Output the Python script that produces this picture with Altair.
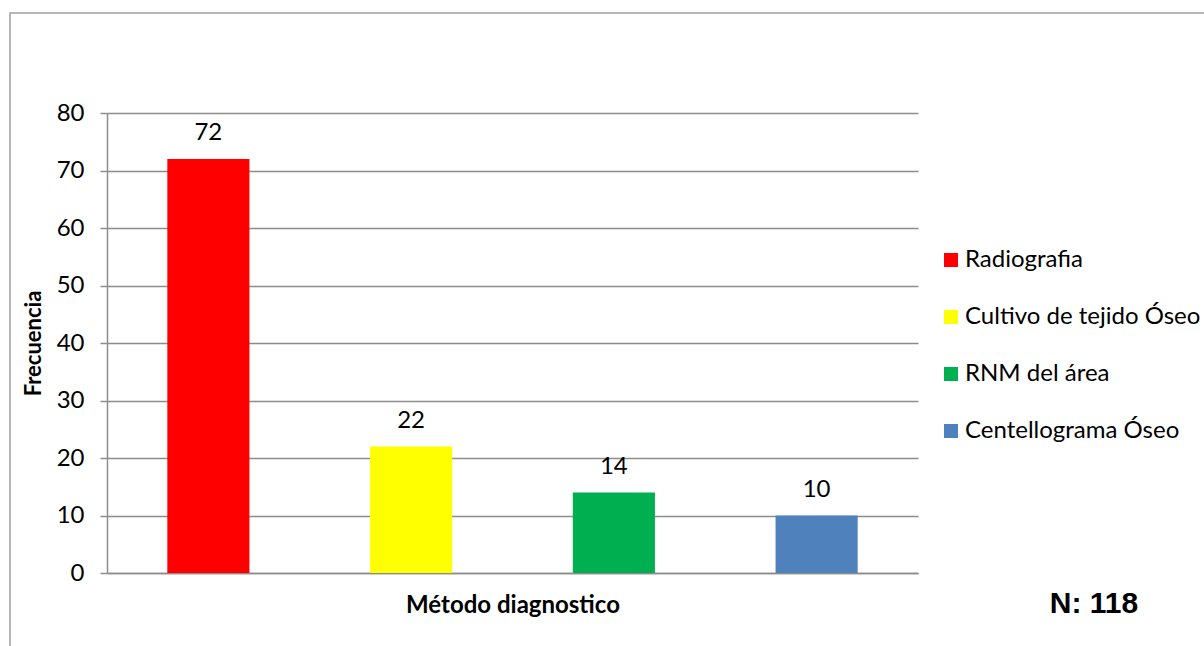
import altair as alt
import pandas as pd

# Diagnostic methods and their frequencies
metodos = ["Radiografia", "Cultivo de tejido Óseo", "RNM del área", "Centellograma Óseo"]
frecuencias = [72, 22, 14, 10]
colores = ["#FF0000", "#FFFF00", "#00B050", "#4F81BD"]
y_ticks = [0, 10, 20, 30, 40, 50, 60, 70, 80]
total_label = "N: 118"

df = pd.DataFrame({"metodo": metodos, "frecuencia": frecuencias})

FONT = "Lato"
GRID = "#8c8c8c"
W, H = 811, 460
PAD_L, PAD_T = 107, 113

x_enc = alt.X(
    "metodo:N",
    sort=metodos,
    scale=alt.Scale(paddingInner=0.595, paddingOuter=0.2975),
    axis=alt.Axis(
        title="Método diagnostico",
        labels=False,
        ticks=False,
        domainColor=GRID,
        domainWidth=1.5,
        titleFont=FONT,
        titleFontSize=24,
        titleFontWeight="bold",
        titleColor="#000000",
        titleX=W / 2,
        titleY=32,
        titleAlign="center",
        titleBaseline="middle",
    ),
)

y_enc = alt.Y(
    "frecuencia:Q",
    scale=alt.Scale(domain=[0, 80], nice=False),
    axis=alt.Axis(
        title="Frecuencia",
        values=y_ticks,
        tickSize=7,
        tickColor=GRID,
        tickWidth=1.5,
        domainColor=GRID,
        domainWidth=1.5,
        gridColor=GRID,
        gridWidth=1.5,
        labelFont=FONT,
        labelFontSize=24,
        labelColor="#000000",
        labelPadding=16,
        titleFont=FONT,
        titleFontSize=22,
        titleFontWeight="bold",
        titleColor="#000000",
        titleAngle=-90,
        titleX=-74,
        titleY=H / 2,
        titleAlign="center",
        titleBaseline="middle",
    ),
)

bars = alt.Chart(df).mark_bar().encode(
    x=x_enc,
    y=y_enc,
    color=alt.Color(
        "metodo:N",
        sort=metodos,
        scale=alt.Scale(domain=metodos, range=colores),
        legend=alt.Legend(
            title=None,
            orient="none",
            legendX=832,
            legendY=135,
            symbolType="square",
            symbolSize=196,
            symbolStrokeWidth=0,
            labelFont=FONT,
            labelFontSize=24,
            labelLimit=400,
            labelColor="#000000",
            labelOffset=2,
            rowPadding=33,
            padding=0,
        ),
    ),
)

labels = alt.Chart(df).mark_text(
    font=FONT, fontSize=24, color="#000000", dy=-14, baseline="bottom"
).encode(
    x=alt.X("metodo:N", sort=metodos),
    y="frecuencia:Q",
    text="frecuencia:Q",
)

# Outer frame around the whole figure
frame = alt.Chart(pd.DataFrame({"k": [0]})).mark_rect(
    fillOpacity=0, stroke="#a0a0a0", strokeWidth=1.5
).encode(
    x=alt.value(10 - PAD_L),
    y=alt.value(13 - PAD_T),
    x2=alt.value(1204 - PAD_L + 20),
    y2=alt.value(646 - PAD_T + 20),
)

n_text = alt.Chart(pd.DataFrame({"t": [total_label]})).mark_text(
    font="Liberation Sans", fontSize=30, fontWeight="bold", color="#000000",
    align="center", baseline="middle",
).encode(
    x=alt.value(1094 - PAD_L),
    y=alt.value(604 - PAD_T),
    text="t:N",
)

chart = (
    alt.layer(frame, bars, labels, n_text)
    .properties(
        width=W,
        height=H,
        autosize=alt.AutoSizeParams(type="none"),
        padding={"left": PAD_L, "top": PAD_T, "right": 1204 - PAD_L - W, "bottom": 646 - PAD_T - H},
        background="#ffffff",
    )
    .configure_view(strokeWidth=0)
)

chart.save("out.html", embed_options={"renderer": "svg", "actions": False})
